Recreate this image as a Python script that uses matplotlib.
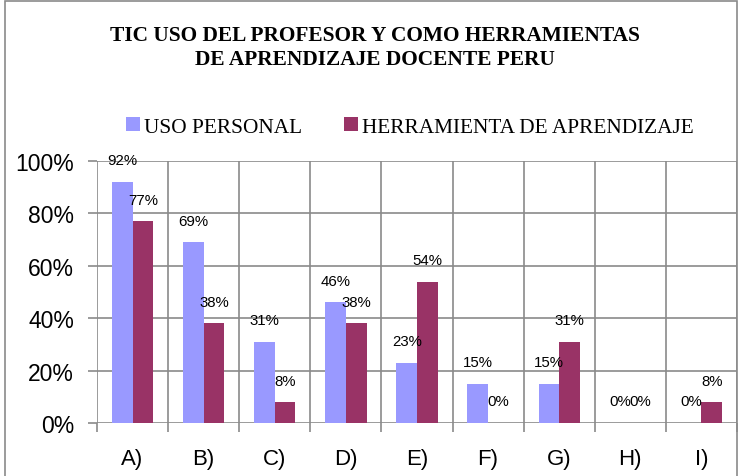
import matplotlib
matplotlib.use("Agg")
import matplotlib.pyplot as plt
import numpy as np
from matplotlib.patches import Rectangle

categories = ["A)", "B)", "C)", "D)", "E)", "F)", "G)", "H)", "I)"]
uso_personal = [92, 69, 31, 46, 23, 15, 15, 0, 0]
herramienta = [77, 38, 8, 38, 54, 0, 31, 0, 8]
series_names = ["USO PERSONAL", "HERRAMIENTA DE APRENDIZAJE"]
yticks = [0, 20, 40, 60, 80, 100]
title = "TIC USO DEL PROFESOR Y COMO HERRAMIENTAS\nDE APRENDIZAJE DOCENTE PERU"

W, H = 739, 477
fig = plt.figure(figsize=(W / 100, H / 100), dpi=100)
ax = fig.add_axes([97 / W, (H - 424) / H, (737 - 97) / W, (424 - 162) / H])

grid_c = "#8a8a8a"
blue = "#9999FF"
red = "#993366"
sans = "Liberation Sans"
serif = "Liberation Serif"

x = np.arange(len(categories))
w = 0.29
v1 = np.array(uso_personal) / 100
v2 = np.array(herramienta) / 100
b1 = ax.bar(x - w / 2, v1, w, color=blue, zorder=3, label=series_names[0])
b2 = ax.bar(x + w / 2, v2, w, color=red, zorder=3, label=series_names[1])

for xs, vals, raw in ((x - w / 2, v1, uso_personal), (x + w / 2, v2, herramienta)):
    for xi, vi, r in zip(xs, vals, raw):
        ax.annotate(f"{r}%", (xi, vi), xytext=(0, 15.5), textcoords="offset points",
                    ha="center", va="center", fontsize=10.8, family=sans, zorder=4,
                    annotation_clip=False)

ax.set_xlim(-0.5, len(categories) - 0.5)
ax.set_ylim(0, 1.0)
ax.set_xticks(np.arange(-0.5, len(categories)), minor=False)
ax.set_xticklabels([])
ax.set_xticks(x, minor=True)
ax.set_xticklabels(categories, minor=True, fontsize=16, family=sans)
ax.tick_params(axis="x", which="major", length=6.5, width=1.2, color=grid_c, direction="out")
ax.tick_params(axis="x", which="minor", length=0, pad=18)
ax.set_yticks(np.array(yticks) / 100)
ax.set_yticklabels([f"{t}%" for t in yticks], fontsize=16.5, family=sans)
ax.tick_params(axis="y", length=6.5, width=1.2, color=grid_c, direction="out", pad=10)
ax.grid(True, which="major", color=grid_c, linewidth=1.2, zorder=0)
ax.set_axisbelow(True)
for s in ax.spines.values():
    s.set_visible(False)

fig.text(375 / W, 1 - 48 / H, title, ha="center", va="center", fontsize=15.4,
         fontweight="bold", family=serif, linespacing=1.22)

leg = fig.legend(handles=[b1, b2], labels=series_names, loc="center",
                 bbox_to_anchor=(410 / W, 1 - 128 / H), ncol=2, frameon=False,
                 prop={"family": serif, "size": 15.3}, handlelength=0.65, handleheight=0.65,
                 handletextpad=0.2, columnspacing=2.0, borderpad=0)

fig.patches.append(Rectangle((5 / W, -0.1), (737 - 5) / W, 1.1 - 1.5 / H, transform=fig.transFigure,
                             fill=False, edgecolor=grid_c, linewidth=1.2))

fig.savefig("out.png", dpi=100)
